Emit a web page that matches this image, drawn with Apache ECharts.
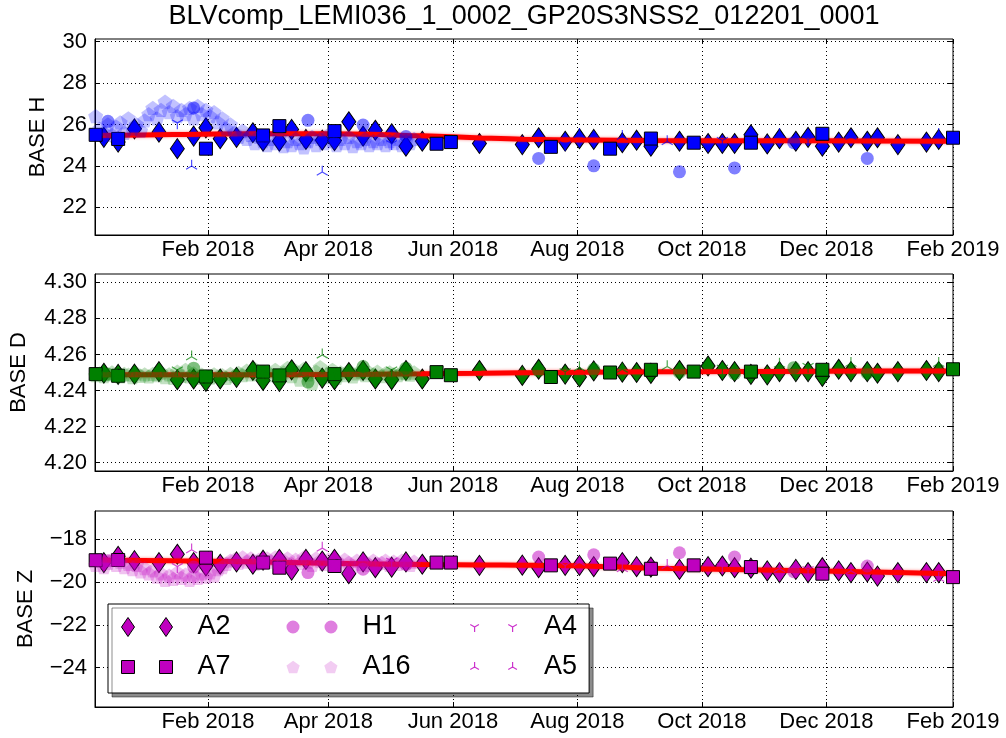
<!DOCTYPE html>
<html>
<head>
<meta charset="utf-8">
<title>BLVcomp baseline</title>
<script src="https://cdn.jsdelivr.net/npm/echarts@6/dist/echarts.min.js"></script>
<style>
  html, body { margin: 0; padding: 0; background: #fff; }
  #chart { width: 1006px; height: 738px; }
</style>
</head>
<body>
<div id="chart"></div>
<script>
// ---- data ----
const titleText = 'BLVcomp_LEMI036_1_0002_GP20S3NSS2_012201_0001';
const panelNames = ['BASE H', 'BASE D', 'BASE Z'];
const xTickDates = ['2018-02-01', '2018-04-01', '2018-06-01', '2018-08-01', '2018-10-01', '2018-12-01', '2019-02-01'];
const yTicksH = [22, 24, 26, 28, 30];
const yTicksD = [4.20, 4.22, 4.24, 4.26, 4.28, 4.30];
const yTicksZ = [-24, -22, -20, -18];

// A2 (diamonds)
const a2Dates = ['2017-12-12','2017-12-19','2017-12-27','2018-01-08','2018-01-17','2018-01-25','2018-01-31','2018-02-07',
  '2018-02-15','2018-02-23','2018-02-28','2018-03-08','2018-03-14','2018-03-21','2018-03-29','2018-04-04',
  '2018-04-11','2018-04-18','2018-04-24','2018-05-02','2018-05-09','2018-05-17','2018-06-14','2018-07-05',
  '2018-07-13','2018-07-26','2018-08-02','2018-08-09','2018-08-23','2018-08-30','2018-09-06','2018-09-20',
  '2018-10-04','2018-10-11','2018-10-17','2018-10-25','2018-11-02','2018-11-08','2018-11-16','2018-11-22',
  '2018-11-29','2018-12-07','2018-12-13','2018-12-21','2018-12-26','2019-01-05','2019-01-19','2019-01-25'];
const a2H = [25.38, 25.15, 25.79, 25.63, 24.83, 25.44, 25.84, 25.31, 25.38, 25.60, 25.20, 25.19, 25.76, 25.28, 25.24, 25.22,
  26.13, 25.44, 25.72, 25.55, 24.95, 25.19, 25.08, 25.03, 25.36, 25.19, 25.31, 25.28, 25.12, 25.24, 24.95, 25.19,
  25.08, 25.08, 25.08, 25.50, 25.06, 25.31, 25.19, 25.38, 24.95, 25.15, 25.36, 25.19, 25.36, 25.03, 25.15, 25.28];
const a2D = [4.2496, 4.2490, 4.2491, 4.2505, 4.2460, 4.2464, 4.2451, 4.2464, 4.2473, 4.2511, 4.2456, 4.2451, 4.2515, 4.2505, 4.2469, 4.2460,
  4.2500, 4.2511, 4.2464, 4.2460, 4.2511, 4.2464, 4.2511, 4.2484, 4.2518, 4.2491, 4.2475, 4.2509, 4.2502, 4.2500, 4.2495, 4.2511,
  4.2536, 4.2511, 4.2505, 4.2490, 4.2487, 4.2505, 4.2505, 4.2505, 4.2478, 4.2518, 4.2505, 4.2505, 4.2496, 4.2505, 4.2511, 4.2505];
const a2Z = [-19.09, -18.80, -19.00, -19.09, -18.70, -19.09, -19.25, -19.17, -19.06, -19.17, -18.98, -18.94, -19.44, -18.94, -19.02, -18.94,
  -19.61, -19.06, -19.33, -19.30, -19.06, -19.17, -19.22, -19.21, -19.33, -19.22, -19.22, -19.28, -19.09, -19.28, -19.30, -19.41,
  -19.28, -19.25, -19.33, -19.35, -19.48, -19.56, -19.41, -19.56, -19.33, -19.48, -19.56, -19.53, -19.72, -19.56, -19.56, -19.56];

// A7 (squares)
const a7Dates = ['2017-12-08','2017-12-19','2018-01-31','2018-02-28','2018-03-08','2018-04-04','2018-05-24','2018-05-31',
  '2018-07-19','2018-08-17','2018-09-06','2018-09-27','2018-10-25','2018-11-29','2019-02-01'];
const a7H = [25.50, 25.30, 24.83, 25.47, 25.92, 25.68, 25.07, 25.15, 24.92, 24.83, 25.32, 25.12, 25.12, 25.55, 25.36];
const a7D = [4.2491, 4.2482, 4.2478, 4.2505, 4.2484, 4.2491, 4.2502, 4.2485, 4.2475, 4.2500, 4.2515, 4.2505, 4.2505, 4.2515, 4.2518];
const a7Z = [-18.98, -18.97, -18.86, -19.09, -19.33, -19.25, -19.09, -19.09, -19.22, -19.14, -19.38, -19.22, -19.30, -19.61, -19.77];

// H1 (circles)
const h1Dates = ['2017-12-14','2018-01-25','2018-03-22','2018-04-18','2018-05-09','2018-07-13','2018-08-09','2018-09-20',
  '2018-10-17','2018-11-15','2018-12-21'];
const h1H = [26.15, 26.80, 26.20, 25.97, 25.42, 24.36, 24.00, 23.71, 23.90, 25.12, 24.36];
const h1D = [4.2490, 4.2524, 4.2447, 4.2533, 4.2524, 4.2510, 4.2518, 4.2500, 4.2493, 4.2527, 4.2496];
const h1Z = [-19.00, -19.30, -19.56, -19.40, -19.17, -18.83, -18.73, -18.63, -18.83, -19.52, -19.25];

// A16 (faint pentagons)
const a16Dates = ['2017-12-08','2017-12-10','2017-12-12','2017-12-14','2017-12-16','2017-12-18','2017-12-20','2017-12-22',
  '2017-12-24','2017-12-26','2017-12-28','2017-12-30',
  '2018-01-01','2018-01-03','2018-01-05','2018-01-07','2018-01-09','2018-01-11','2018-01-13','2018-01-15',
  '2018-01-17','2018-01-19','2018-01-21','2018-01-23','2018-01-25','2018-01-27','2018-01-29','2018-01-31',
  '2018-02-02','2018-02-04','2018-02-06','2018-02-08','2018-02-10','2018-02-12','2018-02-14','2018-02-16',
  '2018-02-18','2018-02-20','2018-02-22','2018-02-24','2018-02-26','2018-02-28',
  '2018-03-02','2018-03-04','2018-03-06','2018-03-08','2018-03-10','2018-03-12','2018-03-14','2018-03-16',
  '2018-03-18','2018-03-20','2018-03-22','2018-03-24','2018-03-26','2018-03-28','2018-03-30',
  '2018-04-01','2018-04-03','2018-04-05','2018-04-07','2018-04-09','2018-04-11','2018-04-13','2018-04-15',
  '2018-04-17','2018-04-19','2018-04-21','2018-04-23','2018-04-25','2018-04-27','2018-04-29',
  '2018-05-01','2018-05-03','2018-05-05','2018-05-07','2018-05-09','2018-05-11','2018-05-13'];
const a16H = [26.4, 25.8, 25.6, 26.0, 25.5, 25.9, 26.1, 25.6, 26.3, 25.8, 26.0, 25.7, 26.2,
  26.5, 26.8, 26.3, 26.7, 27.1, 26.6, 26.9, 26.4, 26.7, 26.5, 26.8, 26.3, 26.9, 26.5, 26.7,
  26.4, 26.6, 26.1, 26.3, 25.8, 26.0, 25.6, 25.4, 25.7, 25.3, 25.5, 25.1, 25.4, 25.2,
  25.0, 25.3, 25.1, 25.4, 24.95, 25.2, 25.0, 25.3, 25.1, 24.9, 25.2, 25.4, 25.0, 25.3, 25.1, 25.5,
  25.2, 25.0, 25.3, 25.1, 25.4, 24.95, 25.2, 25.1, 25.3, 25.0, 25.2, 25.1, 25.3, 25.0, 25.2,
  25.1, 25.3, 25.0, 25.2, 25.1, 25.3];
const a16D = [4.2485, 4.2495, 4.2480, 4.2490, 4.2500, 4.2485, 4.2478, 4.2492, 4.2488, 4.2475, 4.2495, 4.2482, 4.2490,
  4.2478, 4.2492, 4.2485, 4.2500, 4.2475, 4.2490, 4.2470, 4.2505, 4.2482, 4.2515, 4.2478, 4.2495, 4.2470, 4.2488, 4.2480,
  4.2472, 4.2490, 4.2478, 4.2485, 4.2470, 4.2492, 4.2480, 4.2498, 4.2485, 4.2510, 4.2490, 4.2520, 4.2495, 4.2475,
  4.2505, 4.2485, 4.2515, 4.2470, 4.2500, 4.2525, 4.2480, 4.2510, 4.2460, 4.2520, 4.2490, 4.2440, 4.2505, 4.2530, 4.2475, 4.2495,
  4.2515, 4.2470, 4.2500, 4.2485, 4.2510, 4.2478, 4.2495, 4.2505, 4.2485, 4.2500, 4.2490, 4.2505, 4.2480, 4.2495, 4.2500,
  4.2490, 4.2485, 4.2500, 4.2495, 4.2488, 4.2500];
const a16Z = [-19.2, -19.0, -19.3, -19.1, -18.95, -19.2, -19.05, -19.3, -19.15, -19.4, -19.2, -19.5, -19.35,
  -19.6, -19.45, -19.75, -19.6, -19.9, -19.7, -19.85, -19.55, -19.8, -19.65, -19.9, -19.7, -19.8, -19.6, -19.75,
  -19.55, -19.7, -19.4, -19.3, -19.15, -19.0, -18.95, -19.1, -18.85, -19.05, -18.9, -19.15, -18.95, -19.1,
  -18.9, -19.05, -18.85, -19.2, -19.0, -18.9, -19.15, -18.95, -19.1, -18.85, -19.05, -19.2, -18.9, -19.0, -19.15, -18.95,
  -19.1, -19.0, -19.2, -18.95, -19.1, -19.25, -19.0, -19.15, -19.05, -19.2, -19.0, -19.15, -19.1, -19.0, -19.2,
  -19.05, -19.15, -19.0, -19.1, -19.2, -19.05];

// A4 (tri_down) and A5 (tri_up)
const a4Dates = ['2018-01-17','2018-05-02','2018-07-26','2018-10-11','2018-11-22'];
const a4H = [26.0, 25.0, 24.95, 25.15, 25.2];
const a4D = [4.2505, 4.2505, 4.2495, 4.2515, 4.2525];
const a4Z = [-19.35, -19.1, -19.3, -19.35, -19.5];
const a5Dates = ['2018-01-24','2018-03-29','2018-08-02','2018-08-23','2018-09-14','2018-11-08','2018-12-13','2019-01-25'];
const a5H = [24.07, 23.78, 25.6, 25.5, 25.25, 25.6, 25.5, 25.6];
const a5D = [4.2596, 4.2606, 4.2536, 4.2527, 4.2542, 4.2555, 4.2560, 4.2560];
const a5Z = [-18.42, -18.34, -19.0, -19.3, -19.15, -19.3, -19.4, -19.75];

// fitted trend (red line)
const trendDates = ['2017-12-07','2018-01-15','2018-02-23','2018-04-01','2018-05-17','2018-06-15','2018-07-05',
  '2018-08-05','2018-09-06','2018-10-15','2018-11-29','2019-02-01'];
const trendH = [25.47, 25.51, 25.55, 25.55, 25.45, 25.35, 25.29, 25.25, 25.22, 25.21, 25.21, 25.19];
const trendD = [4.2487, 4.2487, 4.2487, 4.2489, 4.2493, 4.2496, 4.2499, 4.2502, 4.2504, 4.2505, 4.2507, 4.2509];
const trendZ = [-18.97, -19.01, -19.05, -19.12, -19.18, -19.20, -19.21, -19.25, -19.35, -19.41, -19.48, -19.61];

// ---- layout / styling ----
const FONT = 'Liberation Sans, Arial, sans-serif';
const colors = ['#0000ff', '#008000', '#bf00bf'];
const xMin = Date.parse('2017-12-07T16:00:00Z');
const xMax = Date.parse('2019-02-01T00:00:00Z');
const xTickValues = xTickDates.map(d => Date.parse(d));
const monthNames = ['Jan', 'Feb', 'Mar', 'Apr', 'May', 'Jun', 'Jul', 'Aug', 'Sep', 'Oct', 'Nov', 'Dec'];

const grids = [
  { left: 95, top: 39, width: 858, height: 196 },
  { left: 95, top: 274, width: 858, height: 197 },
  { left: 95, top: 511, width: 858, height: 196 }
];
const yRanges = [[20.66, 30.13], [4.1954, 4.3046], [-25.84, -16.68]];
const yTickSets = [yTicksH, yTicksD, yTicksZ];
const yFormatters = [
  v => String(v),
  v => v.toFixed(2),
  v => (v < 0 ? '\u2212' + Math.abs(v) : String(v))
];
const nameGaps = [46, 65, 58];

const panelData = [
  { a2: a2H, a7: a7H, h1: h1H, a16: a16H, a4: a4H, a5: a5H, trend: trendH },
  { a2: a2D, a7: a7D, h1: h1D, a16: a16D, a4: a4D, a5: a5D, trend: trendD },
  { a2: a2Z, a7: a7Z, h1: h1Z, a16: a16Z, a4: a4Z, a5: a5Z, trend: trendZ }
];

const pentagon = 'path://M0 -10L9.51 -3.09L5.88 8.09L-5.88 8.09L-9.51 -3.09Z';
const triDown = 'path://M0 0L0 10M0 0L-8.66 -5M0 0L8.66 -5';
const triUp = 'path://M0 0L0 -10M0 0L-8.66 5M0 0L8.66 5';

const toData = (dates, vals) => dates.map((d, i) => [Date.parse(d), vals[i]]);
const fmtMonth = v => {
  const d = new Date(v);
  return monthNames[d.getUTCMonth()] + ' ' + d.getUTCFullYear();
};

const xAxes = [];
const yAxes = [];
const dotted = { color: '#000', width: 1, type: [1, 3] };

// bottom / left axes (labels + grid)
for (let k = 0; k < 3; k++) {
  xAxes.push({
    type: 'value', gridIndex: k, min: xMin, max: xMax,
    axisLine: { show: true, lineStyle: { color: '#000', width: 1 } },
    axisTick: { show: true, inside: true, length: 5, customValues: xTickValues, lineStyle: { color: '#000' } },
    axisLabel: {
      show: true, customValues: xTickValues, formatter: fmtMonth, margin: 4,
      color: '#000', fontFamily: FONT, fontSize: 22, showMinLabel: true, showMaxLabel: true, hideOverlap: false
    },
    splitLine: { show: true, lineStyle: dotted }
  });
  yAxes.push({
    type: 'value', gridIndex: k, min: yRanges[k][0], max: yRanges[k][1],
    name: panelNames[k], nameLocation: 'middle', nameGap: nameGaps[k],
    nameTextStyle: { color: '#000', fontFamily: FONT, fontSize: 22 },
    axisLine: { show: true, lineStyle: { color: '#000', width: 1 } },
    axisTick: { show: true, inside: true, length: 5, customValues: yTickSets[k], lineStyle: { color: '#000' } },
    axisLabel: {
      show: true, customValues: yTickSets[k], formatter: yFormatters[k], margin: 8,
      color: '#000', fontFamily: FONT, fontSize: 22
    },
    splitLine: { show: true, lineStyle: dotted }
  });
}
// top / right axes (ticks only)
for (let k = 0; k < 3; k++) {
  xAxes.push({
    type: 'value', gridIndex: k, position: 'top', min: xMin, max: xMax,
    axisLine: { show: false },
    axisTick: { show: true, inside: true, length: 5, customValues: xTickValues, lineStyle: { color: '#000' } },
    axisLabel: { show: false },
    splitLine: { show: false }
  });
  yAxes.push({
    type: 'value', gridIndex: k, position: 'right', min: yRanges[k][0], max: yRanges[k][1],
    axisLine: { show: false },
    axisTick: { show: true, inside: true, length: 5, customValues: yTickSets[k], lineStyle: { color: '#000' } },
    axisLabel: { show: false },
    splitLine: { show: false }
  });
}

const series = [];
for (let k = 0; k < 3; k++) {
  const c = colors[k];
  const p = panelData[k];
  const nm = s => (k === 2 ? s : panelNames[k] + ' ' + s);
  const base = { xAxisIndex: k, yAxisIndex: k, silent: true };
  series.push(Object.assign({
    name: nm('A2'), type: 'scatter', data: toData(a2Dates, p.a2), z: 2,
    symbol: 'diamond', symbolSize: [14, 20],
    itemStyle: { color: c, borderColor: '#000', borderWidth: 1, opacity: 1 }
  }, base));
  series.push(Object.assign({
    name: nm('fit'), type: 'line', data: toData(trendDates, p.trend), z: 3,
    smooth: 0.35, showSymbol: false,
    lineStyle: { color: '#ff0000', width: 5, shadowBlur: 3, shadowColor: 'rgba(255,0,0,0.5)' }
  }, base));
  series.push(Object.assign({
    name: nm('A7'), type: 'scatter', data: toData(a7Dates, p.a7), z: 4,
    symbol: 'rect', symbolSize: 13,
    itemStyle: { color: c, borderColor: '#000', borderWidth: 1, opacity: 1 }
  }, base));
  series.push(Object.assign({
    name: nm('H1'), type: 'scatter', data: toData(h1Dates, p.h1), z: 5,
    symbol: 'circle', symbolSize: 13,
    itemStyle: { color: c, opacity: 0.5 }
  }, base));
  series.push(Object.assign({
    name: nm('A16'), type: 'scatter', data: toData(a16Dates, p.a16), z: 6,
    symbol: pentagon, symbolSize: 15, symbolKeepAspect: true,
    itemStyle: { color: c, opacity: 0.24 }
  }, base));
  series.push(Object.assign({
    name: nm('A4'), type: 'scatter', data: toData(a4Dates, p.a4), z: 7,
    symbol: triDown, symbolSize: 11, symbolKeepAspect: true,
    itemStyle: { color: c, borderColor: c, borderWidth: 1.2, opacity: 0.7 }
  }, base));
  series.push(Object.assign({
    name: nm('A5'), type: 'scatter', data: toData(a5Dates, p.a5), z: 7,
    symbol: triUp, symbolSize: 11, symbolKeepAspect: true,
    itemStyle: { color: c, borderColor: c, borderWidth: 1.2, opacity: 0.7 }
  }, base));
}

// legend icons: two markers per entry, like the original
const mag = colors[2];
const iconA2 = 'path://M6.5 0L13 9.5L6.5 19L0 9.5ZM44.5 0L51 9.5L44.5 19L38 9.5Z';
const iconA7 = 'path://M0 3L13 3L13 16L0 16ZM38 3L51 3L51 16L38 16Z';
const iconH1 = 'path://M0 9.5A6.5 6.5 0 1 1 13 9.5A6.5 6.5 0 1 1 0 9.5ZM38 9.5A6.5 6.5 0 1 1 51 9.5A6.5 6.5 0 1 1 38 9.5Z';
const iconA16 = 'path://M6.5 2.5L13.16 7.34L10.61 15.16L2.39 15.16L-0.16 7.34ZM44.5 2.5L51.16 7.34L48.61 15.16L40.39 15.16L37.84 7.34Z';
const iconA4 = 'path://M0 0M51 19M6.5 9.5L6.5 14.5M6.5 9.5L2.17 7M6.5 9.5L10.83 7M44.5 9.5L44.5 14.5M44.5 9.5L40.17 7M44.5 9.5L48.83 7';
const iconA5 = 'path://M0 0M51 19M6.5 9.5L6.5 4.5M6.5 9.5L2.17 12M6.5 9.5L10.83 12M44.5 9.5L44.5 4.5M44.5 9.5L40.17 12M44.5 9.5L48.83 12';

const option = {
  animation: false,
  backgroundColor: '#fff',
  title: {
    text: titleText, left: 524, top: 3, textAlign: 'center', padding: 0,
    textStyle: { fontFamily: FONT, fontSize: 27, fontWeight: 'normal', color: '#000' }
  },
  grid: grids.map(g => Object.assign({ show: true, borderColor: '#000', borderWidth: 1, backgroundColor: 'transparent', containLabel: false, outerBoundsMode: 'none' }, g)),
  xAxis: xAxes,
  yAxis: yAxes,
  legend: {
    left: 108, top: 604, width: 520, z: 20,
    orient: 'horizontal', selectedMode: false,
    padding: [8, 12, 11, 13], itemGap: 10, itemWidth: 51, itemHeight: 19,
    backgroundColor: '#fff', borderColor: '#000', borderWidth: 1, borderRadius: 0,
    shadowColor: 'rgba(0,0,0,0.45)', shadowBlur: 0, shadowOffsetX: 4, shadowOffsetY: 4,
    textStyle: { fontFamily: FONT, fontSize: 27, lineHeight: 30, color: '#000', padding: [0, 0, 0, 20] },
    data: [
      { name: 'A2', icon: iconA2, itemStyle: { color: mag, borderColor: '#000', borderWidth: 1, opacity: 1 }, textStyle: { width: 79 } },
      { name: 'H1', icon: iconH1, itemStyle: { color: mag, opacity: 0.5, borderWidth: 0 }, textStyle: { width: 95 } },
      { name: 'A4', icon: iconA4, itemStyle: { color: mag, borderColor: mag, borderWidth: 1.2, opacity: 0.8 } },
      { name: 'A7', icon: iconA7, itemStyle: { color: mag, borderColor: '#000', borderWidth: 1, opacity: 1 }, textStyle: { width: 79 } },
      { name: 'A16', icon: iconA16, itemStyle: { color: mag, opacity: 0.2, borderWidth: 0 }, textStyle: { width: 95 } },
      { name: 'A5', icon: iconA5, itemStyle: { color: mag, borderColor: mag, borderWidth: 1.2, opacity: 0.8 } }
    ]
  },
  series: series
};

const chart = echarts.init(document.getElementById('chart'));
chart.setOption(option);
</script>
</body>
</html>
